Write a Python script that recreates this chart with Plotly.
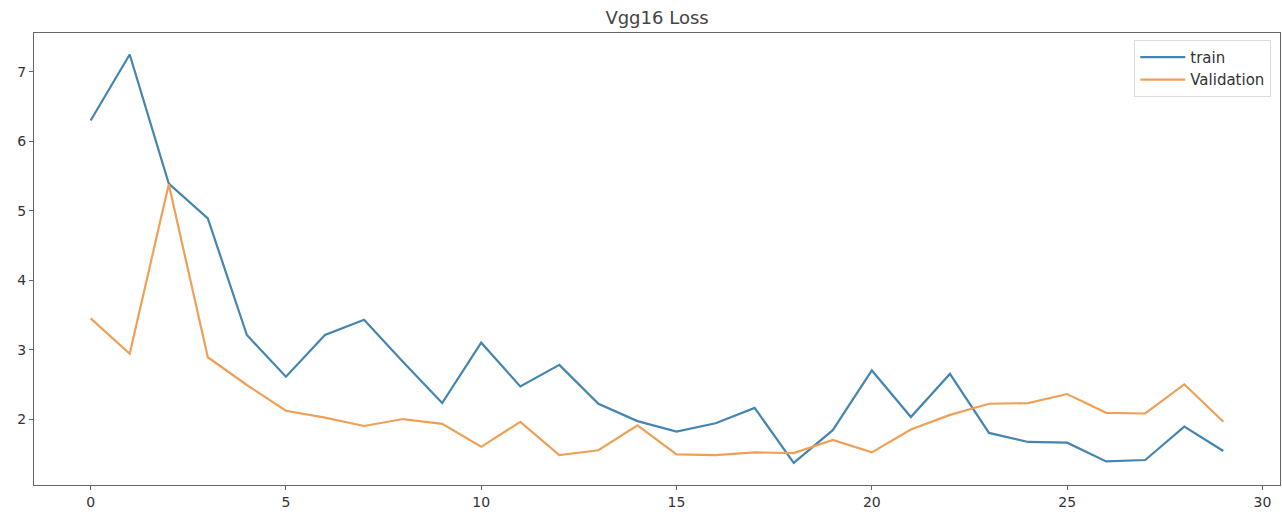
import plotly.graph_objects as go

epochs = list(range(30))
train_loss = [6.30, 7.25, 5.39, 4.89, 3.21, 2.61, 3.21, 3.43, 2.82, 2.23,
              3.10, 2.47, 2.78, 2.22, 1.97, 1.82, 1.94, 2.16, 1.37, 1.84,
              2.70, 2.03, 2.65, 1.80, 1.67, 1.66, 1.39, 1.41, 1.89, 1.54]
val_loss = [3.45, 2.94, 5.38, 2.89, 2.49, 2.12, 2.02, 1.90, 2.00, 1.93,
            1.60, 1.96, 1.48, 1.55, 1.91, 1.49, 1.48, 1.52, 1.51, 1.70,
            1.52, 1.85, 2.06, 2.22, 2.23, 2.36, 2.09, 2.08, 2.50, 1.96]
x_ticks = [0, 5, 10, 15, 20, 25, 30]
y_ticks = [2, 3, 4, 5, 6, 7]

fig = go.Figure()
fig.add_trace(go.Scatter(x=epochs, y=train_loss, mode="lines", name="train",
                         line=dict(color="#4585b0", width=2.2)))
fig.add_trace(go.Scatter(x=epochs, y=val_loss, mode="lines", name="Validation",
                         line=dict(color="#eea057", width=2.2)))

axis_common = dict(showgrid=False, zeroline=False, showline=True, linecolor="#666",
                   linewidth=1.3, mirror=True, ticks="outside", ticklen=4,
                   tickcolor="#666", tickfont=dict(family="DejaVu Sans", size=14, color="#333"))
fig.update_xaxes(range=[-1.45, 30.45], tickvals=x_ticks, **axis_common)
fig.update_yaxes(range=[1.05, 7.56], tickvals=y_ticks, **axis_common)

fig.update_layout(
    width=1282, height=517,
    margin=dict(l=34, r=2, t=33, b=32),
    paper_bgcolor="white", plot_bgcolor="white",
    title=dict(text="Vgg16 Loss", x=0.5125, xanchor="center", y=0.965, yanchor="middle",
               font=dict(family="DejaVu Sans", size=18, color="#444")),
    legend=dict(x=0.993, y=0.985, xanchor="right", yanchor="top", itemwidth=45,
                bgcolor="rgba(255,255,255,0.8)", bordercolor="#ddd", borderwidth=1,
                font=dict(family="DejaVu Sans", size=15, color="#333")),
    showlegend=True,
)

fig.write_html("out.html", config={"displayModeBar": False},
               post_script="document.body.style.margin='0';")
